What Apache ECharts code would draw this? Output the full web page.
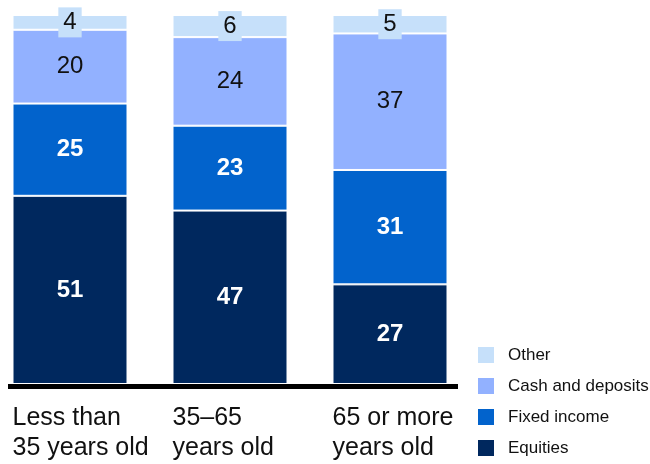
<!DOCTYPE html>
<html>
<head>
<meta charset="utf-8">
<script src="https://cdn.jsdelivr.net/npm/echarts@6/dist/echarts.min.js"></script>
<style>
  html, body { margin: 0; padding: 0; background: #fff; overflow: hidden; }
  /* canvas shifted left so the first category band starts off-screen */
  #chart { width: 660px; height: 464px; margin-left: -10px; }
</style>
</head>
<body>
<div id="chart"></div>
<script>
// Asset allocation by age group (per cent of portfolio)
const categories = ['Less than\n35 years old', '35–65\nyears old', '65 or more\nyears old'];
const equities = [51, 47, 27];
const fixedIncome = [25, 23, 31];
const cashDeposits = [20, 24, 37];
const other = [4, 6, 5];

const colors = {
  equities: '#00285E',
  fixed: '#0263CC',
  cash: '#92B1FF',
  other: '#C6E0FA'
};

const FONT = '"Liberation Sans", Arial, sans-serif';
const SHIFT = 10; // matches the CSS margin-left offset

function seg(name, data, color, labelStyle) {
  return {
    name: name,
    type: 'bar',
    stack: 'total',
    data: data,
    barWidth: 115,
    itemStyle: { color: color, borderColor: '#fff', borderWidth: 1 },
    label: Object.assign({
      show: true,
      position: 'inside',
      fontFamily: FONT,
      fontSize: 24
    }, labelStyle),
    emphasis: { disabled: true }
  };
}

const chart = echarts.init(document.getElementById('chart'), null, { renderer: 'canvas' });

chart.setOption({
  animation: false,
  grid: { left: 0, width: 480, top: 15, bottom: 80 },
  xAxis: {
    type: 'category',
    data: categories,
    axisLine: { show: false },
    axisTick: { show: false },
    axisLabel: {
      interval: 0,
      align: 'left',
      padding: [0, 0, 0, -57.5],
      margin: 19,
      fontFamily: FONT,
      fontSize: 25,
      lineHeight: 30,
      color: '#111'
    }
  },
  yAxis: {
    type: 'value',
    min: 0,
    max: 100,
    show: false
  },
  legend: {
    orient: 'vertical',
    left: 476 + SHIFT,
    top: 345,
    padding: 0,
    itemWidth: 18,
    itemHeight: 18,
    itemGap: 11,
    icon: 'rect',
    data: ['Other', 'Cash and deposits', 'Fixed income', 'Equities'],
    textStyle: { fontFamily: FONT, fontSize: 17, color: '#111', padding: [0, 0, 0, 8] }
  },
  series: [
    seg('Equities', equities, colors.equities, { color: '#fff', fontWeight: 'bold' }),
    seg('Fixed income', fixedIncome, colors.fixed, { color: '#fff', fontWeight: 'bold' }),
    seg('Cash and deposits', cashDeposits, colors.cash, { color: '#111' }),
    seg('Other', other, colors.other, {
      color: '#111',
      backgroundColor: colors.other,
      padding: [3, 5, 3, 5]
    })
  ],
  graphic: [{
    type: 'line',
    shape: { x1: 8 + SHIFT, y1: 386.5, x2: 458 + SHIFT, y2: 386.5 },
    style: { stroke: '#000', lineWidth: 5 },
    z: 10
  }]
});
</script>
</body>
</html>
